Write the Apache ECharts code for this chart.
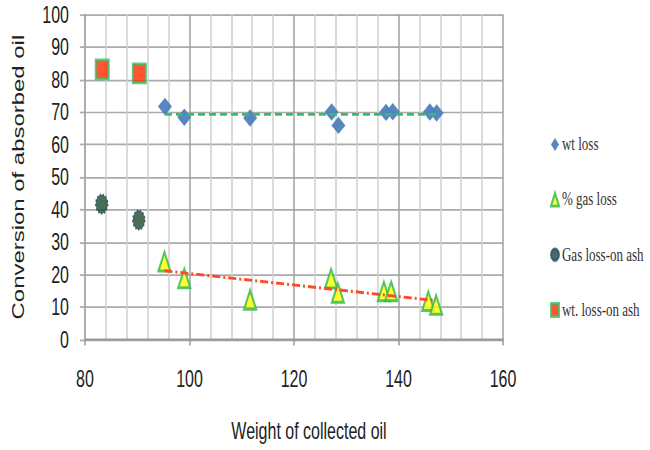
<!DOCTYPE html>
<html>
<head>
<meta charset="utf-8">
<script src="https://cdn.jsdelivr.net/npm/echarts@6/dist/echarts.min.js"></script>
<style>
html,body{margin:0;padding:0;background:#fff;width:650px;height:450px;overflow:hidden;}
#chart{width:650px;height:310px;transform:scaleY(1.4516);transform-origin:0 0;}
</style>
</head>
<body>
<div id="chart"></div>
<script>
// Data
const seriesNames = ['wt loss', '% gas loss', 'Gas loss-on ash', 'wt. loss-on ash'];
const wtLoss = [[95.3,71.7],[99.0,68.4],[111.6,68.2],[127.2,70.0],[128.5,65.9],[137.6,69.9],[138.9,70.1],[146.0,70.0],[147.3,69.7]];
const gasLoss = [[95.2,24.0],[99.0,18.9],[111.6,12.3],[127.1,18.8],[128.4,14.4],[137.2,14.9],[138.6,14.9],[145.7,11.9],[147.2,10.7]];
const gasLossAsh = [[83.2,41.7],[90.3,36.8]];
const wtLossAsh = [[83.3,83.1],[90.4,81.9]];
const trendWt = [[95.3,69.3],[147.3,69.3]];
const trendGas = [[95.2,21.2],[147.2,12.0]];
const xTicks = {min:80, max:160, step:20};
const yTicks = {min:0, max:100, step:10};

const chart = echarts.init(document.getElementById('chart'), null, {renderer:'svg'});
const axisFont = {fontFamily:'Liberation Sans, Arial, sans-serif', fontSize:16, color:'#222'};
chart.setOption({
  backgroundColor:'#fff',
  animation:false,
  grid:{left:85, right:147, top:10, bottom:69, containLabel:false},
  legend:{
    orient:'vertical', left:545, top:88, padding:5,
    itemWidth:8, itemHeight:9, itemGap:25,
    data:seriesNames,
    textStyle:{fontFamily:'Liberation Serif, Times New Roman, serif', fontSize:13, color:'#333', padding:[0,0,0,-2]}
  },
  xAxis:{
    type:'value', min:xTicks.min, max:xTicks.max, interval:xTicks.step,
    name:'Weight of collected oil', nameLocation:'middle', nameGap:55,
    nameTextStyle:Object.assign({}, axisFont, {padding:[0,0,0,30]}),
    axisLine:{show:true, onZero:false, lineStyle:{color:'#999', width:1.5}},
    axisTick:{show:true, length:4, lineStyle:{color:'#999', width:1.5}},
    axisLabel:Object.assign({margin:19}, axisFont),
    splitLine:{show:true, lineStyle:{color:'#a0a0a0', width:1.5}},
    minorTick:{show:false, splitNumber:5},
    minorSplitLine:{show:true, lineStyle:{color:'#cfcfcf', width:1.5}}
  },
  yAxis:{
    type:'value', min:yTicks.min, max:yTicks.max, interval:yTicks.step,
    name:'Conversion of absorbed oil', nameLocation:'middle', nameGap:59, nameRotate:90,
    nameTextStyle:Object.assign({}, axisFont, {fontSize:16.5}),
    axisLine:{show:true, lineStyle:{color:'#aaa', width:1.5}},
    axisTick:{show:true, length:5, lineStyle:{color:'#aaa', width:1.2}},
    axisLabel:Object.assign({margin:16}, axisFont),
    splitLine:{show:true, lineStyle:{color:'#aaa', width:1.2}}
  },
  series:[
    {name:seriesNames[0], type:'scatter', data:wtLoss, symbol:'diamond', symbolSize:[14,12],
     itemStyle:{color:'#4F81BD', opacity:0.95}, z:3},
    {name:seriesNames[1], type:'scatter', data:gasLoss, symbol:'triangle', symbolSize:[12,13],
     itemStyle:{color:'#ffff00', borderColor:'#2db84d', borderWidth:2}, z:3},
    {name:seriesNames[2], type:'scatter', data:gasLossAsh, symbol:'circle', symbolSize:[12,13],
     itemStyle:{color:'#1d4a2c', borderColor:'#2a4f7a', borderWidth:1.5, borderType:'dotted'}, z:3},
    {name:seriesNames[3], type:'scatter', data:wtLossAsh, symbol:'rect', symbolSize:[13,13],
     itemStyle:{color:'#ff2a00', borderColor:'#33c46a', borderWidth:2}, z:3},
    {name:'trend wt', type:'line', data:trendWt, symbol:'none', z:5,
     lineStyle:{color:'#2fbf6f', width:2, type:[7,4]}},
    {name:'trend gas', type:'line', data:trendGas, symbol:'none', z:5,
     lineStyle:{color:'#ff4a2a', width:2, type:[8,3,2,3]}}
  ]
});
</script>
</body>
</html>
